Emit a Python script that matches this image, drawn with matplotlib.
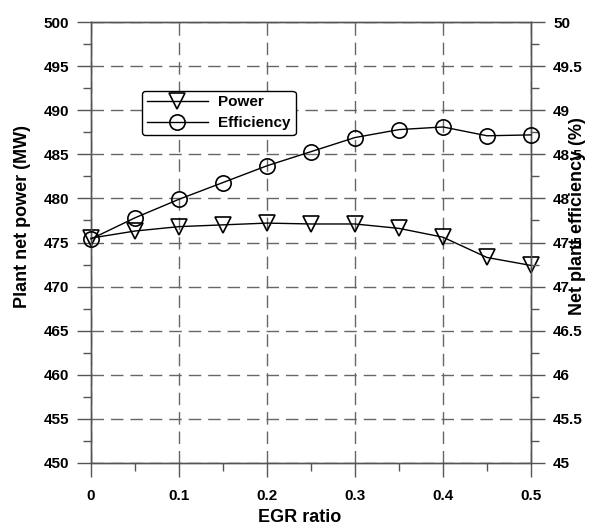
import numpy as np
import matplotlib
matplotlib.use("Agg")
from matplotlib import pyplot as plt
from matplotlib.ticker import MultipleLocator

egr = [0, 0.05, 0.1, 0.15, 0.2, 0.25, 0.3, 0.35, 0.4, 0.45, 0.5]
power = [475.5, 476.3, 476.8, 477.0, 477.2, 477.1, 477.1, 476.6, 475.6, 473.3, 472.4]
efficiency = [47.54, 47.78, 47.99, 48.18, 48.37, 48.53, 48.69, 48.78, 48.81, 48.71, 48.72]

plt.rcParams['font.family'] = ['Liberation Sans', 'DejaVu Sans']
plt.rcParams['font.weight'] = 'bold'

fig = plt.figure(figsize=(6.03, 5.29), dpi=100)
ax = fig.add_axes([91/603, 1-463/529, 440/603, 441/529])
ax2 = ax.twinx()

grid_kw = dict(color='#666666', lw=1, linestyle=(0, (9, 5)))
ax.grid(True, which='major', **grid_kw)
ax.set_axisbelow(True)

l1, = ax.plot(egr, power, color='black', lw=1, marker='v', ms=11,
              mfc='none', mec='black', mew=1.2, clip_on=False, zorder=5)
l2, = ax2.plot(egr, efficiency, color='black', lw=1, marker='o', ms=11,
               mfc='none', mec='black', mew=1.2, clip_on=False, zorder=5)

ax.set_xlim(0, 0.5)
ax.set_ylim(450, 500)
ax2.set_ylim(45, 50)

ax.xaxis.set_major_locator(MultipleLocator(0.1))
ax.xaxis.set_minor_locator(MultipleLocator(0.05))
ax.yaxis.set_major_locator(MultipleLocator(5))
ax.yaxis.set_minor_locator(MultipleLocator(2.5))
ax2.yaxis.set_major_locator(MultipleLocator(0.5))
ax2.yaxis.set_minor_locator(MultipleLocator(0.25))
ax.set_xticks([0, 0.1, 0.2, 0.3, 0.4, 0.5])
ax.set_xticklabels(['0', '0.1', '0.2', '0.3', '0.4', '0.5'])
ax2.set_yticks([45, 45.5, 46, 46.5, 47, 47.5, 48, 48.5, 49, 49.5, 50])
ax2.set_yticklabels(['45', '45.5', '46', '46.5', '47', '47.5', '48', '48.5', '49', '49.5', '50'])

for a in (ax, ax2):
    for s in a.spines.values():
        s.set_color('#555555')
        s.set_linewidth(1)
    a.tick_params(which='major', direction='out', length=10, width=1,
                  color='#555555', labelsize=11, pad=6)
    a.tick_params(which='minor', direction='out', length=6, width=1, color='#555555')
ax.tick_params(axis='x', which='both', top=False)
ax.tick_params(axis='x', which='major', pad=9)

ax.set_xlabel('EGR ratio', fontsize=13, fontweight='bold')
ax.set_ylabel('Plant net power (MW)', fontsize=13, fontweight='bold')
ax2.set_ylabel('Net plant efficiency (%)', fontsize=13, fontweight='bold')
ax.xaxis.set_label_coords(0.475, -0.104)
ax.yaxis.set_label_coords(-0.136, 0.56)
ax2.yaxis.set_label_coords(1.086, 0.56)

leg = ax2.legend([l1, l2], ['Power', 'Efficiency'], loc='upper left',
                 bbox_to_anchor=(0.116, 0.844), fontsize=11, frameon=True,
                 fancybox=True, framealpha=1, edgecolor='black',
                 handlelength=4.0, borderpad=0.3, labelspacing=0.45,
                 handletextpad=0.7, borderaxespad=0)
leg.get_frame().set_linewidth(1)

fig.savefig('out.png', dpi=100)
